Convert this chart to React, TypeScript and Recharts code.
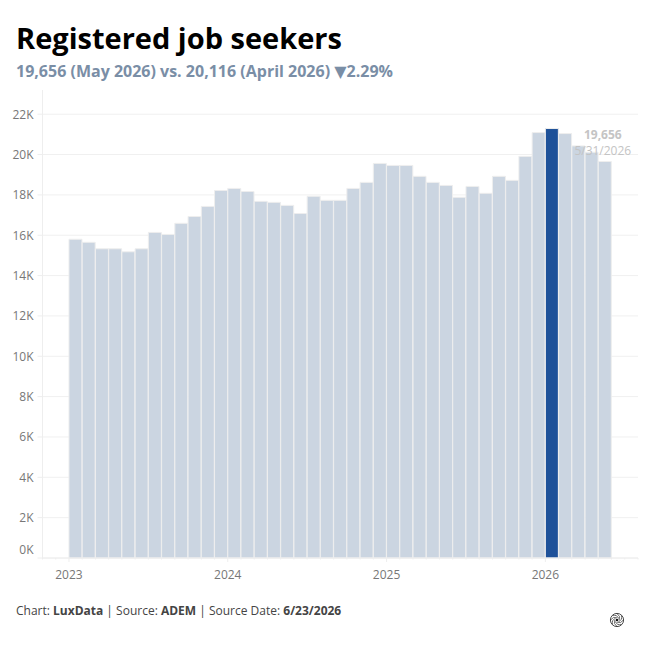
// App.tsx
// Registered job seekers, monthly bars Jan 2023 - May 2026

import React from 'react'
import { BarChart, Bar, Cell, CartesianGrid, XAxis, YAxis, LabelList } from 'recharts'

const FONT = '"Open Sans", sans-serif'

const seekers = [
  15800, 15650, 15330, 15330, 15180, 15330, 16140, 16040, 16590, 16930, 17430, 18220,
  18320, 18170, 17680, 17630, 17480, 17080, 17930, 17730, 17730, 18320, 18620, 19560,
  19460, 19460, 18920, 18620, 18470, 17880, 18420, 18080, 18920, 18720, 19910, 21090,
  21290, 21040, 20430, 20116, 19656,
]
const highlightIndex = 36
const lastDate = '5/31/2026'
const yTicks = [0, 2000, 4000, 6000, 8000, 10000, 12000, 14000, 16000, 18000, 20000, 22000]
// month offsets from Jan 2023, the axis runs two months either side of the data
const monthTicks = [-2, -1, 0, 1, 2, 3, 4, 5, 6, 7, 8, 9, 10, 11, 12, 13, 14, 15, 16, 17, 18, 19, 20, 21, 22, 23, 24, 25, 26, 27, 28, 29, 30, 31, 32, 33, 34, 35, 36, 37, 38, 39, 40, 41, 42, 43]
const yearLabels: Record<number, string> = { 0: '2023', 12: '2024', 24: '2025', 36: '2026' }

// bars sit to the right of their month tick
const chartData = seekers.map((value, i) => ({ month: i + 0.5, value }))

// recharts hands custom ticks a position 8px off the axis, so lines start back at y - 8
function MonthTick({ x, y, payload }: any) {
  const label = yearLabels[payload.value]
  return (
    <g>
      <line x1={x} x2={x} y1={y - 8} y2={y - 8 + (label ? 4 : 1.5)} stroke="#eeeeee" />
      {label && (
        <text x={x} y={y + 12.5} textAnchor="middle" fontSize={12} fontFamily={FONT} fill="#777777">
          {label}
        </text>
      )}
    </g>
  )
}

function ValueTick({ x, y, payload }: any) {
  // the zero label is nudged up off the baseline
  const dy = payload.value === 0 ? -9 : 0
  return (
    <g>
      <line x1={x + 3} x2={x + 8} y1={y} y2={y} stroke="#eeeeee" />
      <text x={x - 1} y={y + dy + 4.5} textAnchor="end" fontSize={12} fontFamily={FONT} fill="#777777">
        {`${payload.value / 1000}K`}
      </text>
    </g>
  )
}

function LastLabel({ x, y, width, value, index }: any) {
  if (index !== seekers.length - 1) return null
  const cx = x + width / 2 - 2
  return (
    <g fontFamily={FONT} fontSize={12} textAnchor="middle" fill="#c4c4c4">
      <text x={cx} y={y - 22} fontWeight={700}>{value.toLocaleString('en-US')}</text>
      <text x={cx} y={y - 6}>{lastDate}</text>
    </g>
  )
}

function Logo() {
  const blades = [0, 45, 90, 135, 180, 225, 270, 315]
  return (
    <svg width={16} height={16} viewBox="-8 -8 16 16" style={{ position: 'absolute', left: 609, top: 612 }}>
      <circle r={6.6} fill="none" stroke="#333333" strokeWidth={0.9} />
      {blades.map(a => (
        <path key={a} d="M0 -6.4 Q4 -3.8 2.2 0" fill="none" stroke="#333333" strokeWidth={0.7} transform={`rotate(${a})`} />
      ))}
      <circle r={1.3} fill="#111111" />
    </svg>
  )
}

const textBase: React.CSSProperties = { position: 'absolute', whiteSpace: 'nowrap', fontFamily: FONT }

export default function App() {
  return (
    <div style={{ position: 'absolute', left: 0, top: 0, width: 649, height: 649, background: '#ffffff' }}>
      <div style={{ ...textBase, left: 16, top: 18, fontSize: 29, lineHeight: '40px', fontWeight: 700, color: '#000000' }}>
        Registered job seekers
      </div>
      <div style={{ ...textBase, left: 16, top: 60, fontSize: 16, lineHeight: '22px', fontWeight: 700, color: '#7a8ea6' }}>
        19,656 (May 2026) vs. 20,116 (April 2026) <span style={{ fontFamily: '"DejaVu Sans"' }}>▼</span>2.29%
      </div>
      <div style={{ position: 'absolute', left: 0, top: 90 }}>
        <BarChart
          width={649}
          height={510}
          data={chartData}
          margin={{ top: 0, right: 11, bottom: 0, left: 0 }}
          barCategoryGap={0}
        >
          <CartesianGrid horizontal vertical={false} stroke="#f0f0f0" horizontalValues={yTicks} />
          <XAxis
            dataKey="month"
            type="number"
            domain={[-2, 43]}
            ticks={monthTicks}
            interval={0}
            height={42}
            axisLine={{ stroke: '#eeeeee' }}
            tickLine={false}
            tick={<MonthTick />}
          />
          <YAxis
            type="number"
            domain={[0, 23200]}
            ticks={yTicks}
            interval={0}
            width={42.5}
            axisLine={{ stroke: '#eeeeee' }}
            tickLine={false}
            tick={<ValueTick />}
          />
          <Bar dataKey="value" fill="#cbd5e1" stroke="#eeeeee" strokeWidth={1} isAnimationActive={false}>
            {chartData.map((d, i) => (
              <Cell key={d.month} fill={i === highlightIndex ? '#1e5199' : '#cbd5e1'} />
            ))}
            <LabelList dataKey="value" content={<LastLabel />} />
          </Bar>
        </BarChart>
      </div>
      <div style={{ ...textBase, left: 16, top: 602, fontSize: 12, lineHeight: '17px', color: '#444444' }}>
        Chart: <b>LuxData</b> | Source: <b>ADEM</b> | Source Date: <b>6/23/2026</b>
      </div>
      <Logo />
    </div>
  )
}
